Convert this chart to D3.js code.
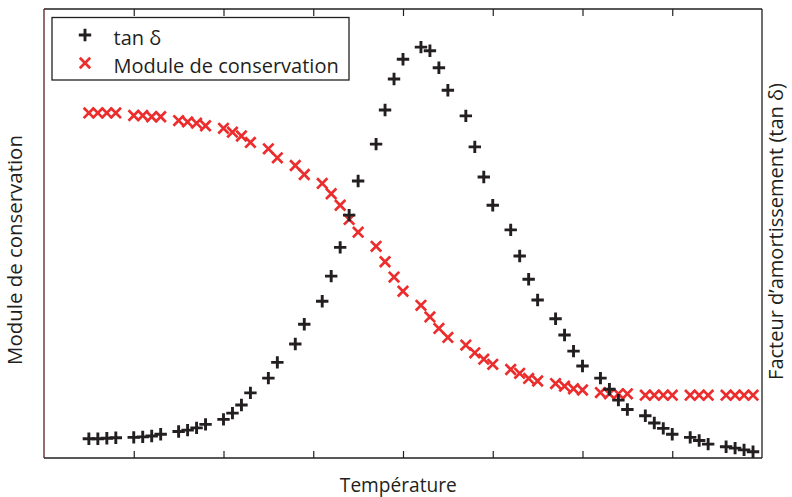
<!DOCTYPE html>
<html><head><meta charset="utf-8">
<script src="https://cdn.jsdelivr.net/npm/d3@7"></script>
<style>html,body{margin:0;padding:0;background:#fff;}svg{display:block;}</style>
</head><body>
<svg id="chart" width="792" height="497"></svg>
<script>
// ---- data ----
const temperature = [10,12,14,16,20,22,24,26,30,32,34,36,40,42,44,46,50,52,56,58,62,64,66,68,70,74,76,78,80,84,86,88,90,94,96,98,100,104,106,108,110,114,116,118,120,124,126,128,130,134,136,138,140,144,146,148,152,154,156,158];
const tanDelta = [0.043,0.043,0.044,0.045,0.046,0.047,0.049,0.053,0.059,0.062,0.067,0.075,0.086,0.100,0.118,0.145,0.178,0.213,0.254,0.298,0.349,0.405,0.469,0.541,0.617,0.699,0.775,0.844,0.888,0.915,0.907,0.869,0.819,0.762,0.693,0.626,0.563,0.508,0.450,0.398,0.352,0.310,0.274,0.238,0.205,0.178,0.153,0.129,0.108,0.094,0.078,0.066,0.053,0.046,0.039,0.031,0.025,0.022,0.018,0.014];
const storageModulus = [2.69,2.69,2.69,2.69,2.67,2.67,2.66,2.66,2.63,2.62,2.61,2.59,2.57,2.54,2.51,2.46,2.41,2.34,2.28,2.21,2.14,2.06,1.97,1.86,1.76,1.65,1.53,1.41,1.30,1.19,1.10,1.01,0.94,0.88,0.82,0.77,0.73,0.69,0.66,0.62,0.60,0.58,0.56,0.54,0.53,0.51,0.50,0.50,0.50,0.49,0.49,0.49,0.49,0.49,0.49,0.49,0.49,0.49,0.49,0.49];
const xTicks = [20,40,60,80,100,120,140];
const seriesNames = ["tan \u03B4", "Module de conservation"];
const xLabel = "Temp\u00E9rature";
const yLeftLabel = "Module de conservation";
const yRightLabel = "Facteur d\u2019amortissement (tan \u03B4)";

// ---- layout ----
const L = 44, R = 762, T = 9, B = 458;
const FONT = "'Open Sans', 'Noto Sans', sans-serif";
const INK = "#231f20", RED = "#ec2d2d";

const svg = d3.select("#chart");
const x = d3.scaleLinear().domain([0,160]).range([L,R]);
const yL = d3.scaleLinear().domain([0,3.5]).range([B,T]);
const yR = d3.scaleLinear().domain([0,1]).range([B,T]);

const plus = "M-6.2,0H6.2M0,-6.2V6.2";
const cross = "M-5.2,-5.2L5.2,5.2M-5.2,5.2L5.2,-5.2";

// axes with inward ticks, no labels
svg.append("g").attr("transform",`translate(0,${B})`)
  .call(d3.axisTop(x).tickValues(xTicks).tickSize(7).tickFormat(""))
  .call(g=>{g.select(".domain").remove(); g.selectAll("line").attr("stroke",INK).attr("stroke-width",1.2);});
svg.append("g").attr("transform",`translate(0,${T})`)
  .call(d3.axisBottom(x).tickValues(xTicks).tickSize(7).tickFormat(""))
  .call(g=>{g.select(".domain").remove(); g.selectAll("line").attr("stroke",INK).attr("stroke-width",1.2);});

// data: red first, black on top
svg.append("g").selectAll("path").data(temperature.map((t,i)=>[t,storageModulus[i]])).join("path")
  .attr("d",cross).attr("transform",d=>`translate(${x(d[0])},${yL(d[1])})`)
  .attr("stroke",RED).attr("stroke-width",2.7).attr("fill","none");
svg.append("g").selectAll("path").data(temperature.map((t,i)=>[t,tanDelta[i]])).join("path")
  .attr("d",plus).attr("transform",d=>`translate(${x(d[0])},${yR(d[1])})`)
  .attr("stroke",INK).attr("stroke-width",2.9).attr("fill","none");

// frame
svg.append("line").attr("x1",L).attr("x2",R).attr("y1",T).attr("y2",T).attr("stroke",INK).attr("stroke-width",1.3);
svg.append("line").attr("x1",L).attr("x2",R).attr("y1",B).attr("y2",B).attr("stroke",INK).attr("stroke-width",1.3);
svg.append("line").attr("x1",R).attr("x2",R).attr("y1",T).attr("y2",B).attr("stroke",INK).attr("stroke-width",1.3);
svg.append("line").attr("x1",L).attr("x2",L).attr("y1",T).attr("y2",B).attr("stroke","#5a1f1f").attr("stroke-width",1.3);

function fit(sel, target){
  sel.attr("font-size",20);
  const w = sel.node().getComputedTextLength();
  sel.attr("font-size", 20*target/w);
}

// legend
const lg = svg.append("g");
lg.append("rect").attr("x",52).attr("y",17.5).attr("width",297).attr("height",62.5)
  .attr("fill","#fff").attr("stroke",INK).attr("stroke-width",1.3);
lg.append("path").attr("d",plus).attr("transform","translate(85,35)").attr("stroke",INK).attr("stroke-width",2.9).attr("fill","none");
lg.append("path").attr("d",cross).attr("transform","translate(85,63)").attr("stroke",RED).attr("stroke-width",2.7).attr("fill","none");
const t2 = lg.append("text").attr("x",113.5).attr("y",72.5).attr("font-family",FONT).attr("fill",INK).text(seriesNames[1]);
fit(t2, 225.5);
const fs = t2.attr("font-size");
lg.append("text").attr("x",113.5).attr("y",44.5).attr("font-family",FONT).attr("fill",INK).attr("font-size",fs).text(seriesNames[0]);

// axis titles
const xt = svg.append("text").attr("x",398.3).attr("y",492).attr("text-anchor","middle").attr("font-family",FONT).attr("fill",INK).text(xLabel);
fit(xt, 117);
const ylt = svg.append("text").attr("transform","translate(21.7,250) rotate(-90)").attr("text-anchor","middle").attr("font-family",FONT).attr("fill",INK).text(yLeftLabel);
fit(ylt, 230);
const yrt = svg.append("text").attr("transform","translate(783,231.5) rotate(-90)").attr("text-anchor","middle").attr("font-family",FONT).attr("fill",INK).text(yRightLabel);
fit(yrt, 297);
</script>
</body></html>
